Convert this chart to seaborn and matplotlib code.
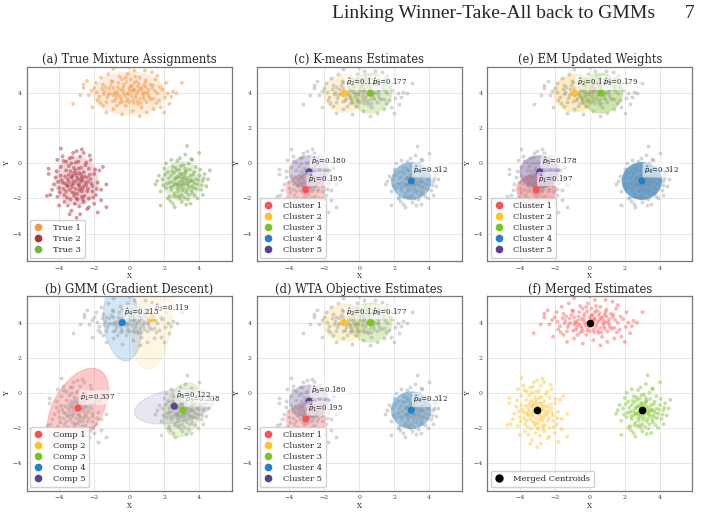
import numpy as np
import pandas as pd
import matplotlib
matplotlib.use("Agg")
import matplotlib.pyplot as plt
import seaborn as sns
from matplotlib.patches import Ellipse
from matplotlib.lines import Line2D

sns.set_theme(style="whitegrid")
plt.rcParams["font.family"] = ["DejaVu Serif"]

# ----------------------------------------------------------
# data
# ----------------------------------------------------------
# true component 1 (top cloud)
top_pts = [(-0.1,4.0),(0.3,4.2),(-0.5,3.8),(0.8,4.1),(-0.9,4.3),(0.2,3.6),(-0.3,4.5),(1.1,3.9),(-1.2,3.9),(0.5,4.4),
           (-0.7,4.1),(0.0,4.3),(0.6,3.7),(-0.4,3.5),(1.3,4.3),(-1.4,4.1),(0.9,4.6),(-0.8,3.6),(0.1,4.8),(-0.2,3.3),
           (1.6,4.0),(-1.7,3.8),(0.4,3.9),(-0.6,4.6),(1.0,3.5),(-1.0,4.7),(0.7,4.3),(-0.1,3.7),(0.3,4.6),(-0.5,4.2),
           (1.4,3.7),(-1.3,3.5),(0.2,4.1),(-0.9,3.9),(0.8,3.8),(-0.3,4.0),(1.9,4.2),(-2.0,4.3),(0.6,4.9),(-0.7,3.3),
           (1.2,4.5),(-1.5,4.5),(0.0,3.5),(0.5,3.4),(-0.2,4.9),(1.7,3.6),(-1.8,3.6),(0.9,4.0),(-1.1,4.0),(0.1,4.4),
           (2.2,4.0),(-2.3,3.9),(0.4,4.7),(-0.4,4.8),(1.5,4.8),(-1.6,4.9),(0.7,3.2),(-0.9,3.1),(1.1,4.2),(-0.6,3.9),
           (2.5,4.1),(-2.6,4.3),(-2.6,4.5),(2.4,3.8),(-2.8,3.9),(-1.5,3.3),(1.8,3.2),(2.0,2.9),(0.0,5.5),(-0.9,5.4),
           (0.6,2.7),(-3.2,3.4),(3.0,4.6),(1.3,5.2),(-1.2,5.1),(0.3,5.3),(2.1,4.6),(-2.1,3.2),(1.0,2.9),(-0.4,2.8),
           (2.7,4.0),(-2.4,4.7),(0.2,3.0),(1.6,5.0),(-1.9,4.6),(2.3,3.4),(-0.1,5.1),(0.9,5.3),(-1.3,2.9),(1.4,3.1),
           (0.15,3.85),(-0.35,4.15),(0.45,4.05),(-0.75,3.75),(0.95,4.35),(-1.05,4.45),(0.25,3.45),(-0.15,4.65),(1.25,3.65),(-1.25,3.75),
           (0.55,4.55),(-0.55,3.45),(0.05,4.15),(0.75,3.95),(-0.85,4.05),(1.45,4.15),(-1.45,3.95),(0.35,3.75),(-0.25,3.85),(0.65,4.25),
           (-0.65,4.35),(1.05,4.05),(-1.15,4.25),(0.15,4.45),(-0.45,3.65),(0.85,3.65),(-0.95,3.55),(1.35,4.45),(-1.55,4.25),(0.45,3.55),
           (-0.05,3.95),(0.55,4.15),(-0.35,4.35),(0.25,4.25),(-0.75,3.95),(1.15,3.75),(-1.35,4.35),(0.95,4.75),(-0.15,3.55),(0.65,3.45),
           (1.75,4.35),(-1.85,4.05),(2.05,3.75),(-2.15,4.15),(0.35,4.95),(-0.55,4.95),(1.55,3.45),(-1.65,3.45),(0.85,4.45),(-0.95,4.65)]
# true component 2 (left cloud)
left_pts = [(-3.0,-1.0),(-2.7,-0.8),(-3.3,-1.2),(-2.8,-1.4),(-3.2,-0.6),(-2.5,-1.1),(-3.5,-0.9),(-2.9,-0.3),(-3.1,-1.7),(-2.6,-0.5),
            (-3.4,-1.5),(-2.4,-1.6),(-3.6,-0.4),(-2.2,-0.9),(-3.8,-1.1),(-3.0,-2.0),(-2.9,0.1),(-2.7,-1.9),(-3.3,0.0),(-2.3,-0.3),
            (-3.7,-1.8),(-2.1,-1.3),(-3.9,-0.7),(-3.1,-2.3),(-2.6,-2.2),(-3.4,0.3),(-2.8,0.4),(-2.0,-0.6),(-4.0,-1.4),(-3.2,-1.0),
            (-2.9,-1.2),(-3.0,-0.7),(-2.6,-1.3),(-3.3,-0.8),(-2.8,-0.9),(-3.5,-1.3),(-2.4,-0.8),(-3.1,-0.4),(-2.7,-1.6),(-3.6,-1.6),
            (-2.5,-0.1),(-3.9,-0.2),(-1.9,-1.8),(-4.1,-1.9),(-2.3,-2.0),(-3.5,-2.4),(-2.2,0.2),(-3.8,0.4),(-1.8,-1.1),(-4.2,-0.8),
            (-2.0,-2.3),(-3.3,-2.7),(-2.6,0.6),(-3.2,0.6),(-1.7,-0.4),(-4.3,-1.2),(-2.4,-2.6),(-3.7,-2.2),(-2.1,-1.6),(-3.6,0.1),
            (-4.6,-0.3),(-4.6,-0.6),(-4.5,-1.8),(-3.9,0.85),(-2.3,-2.5),(-1.3,-2.5),(-1.8,-2.8),(-3.0,-3.1),(-1.5,-0.2),(-1.3,-1.2),
            (-4.7,-1.85),(-2.8,-2.9),(-3.4,-2.9),(-1.6,-1.5),(-4.4,-1.5),(-1.6,-2.1),(-2.7,0.8),(-3.0,0.7),(-4.1,0.2),(-4.0,-2.4),
            (-2.95,-0.85),(-3.15,-1.15),(-2.75,-1.05),(-3.25,-0.75),(-2.85,-1.25),(-3.45,-1.05),(-2.55,-0.75),(-3.05,-1.45),(-2.65,-1.45),(-3.35,-0.45),
            (-2.45,-1.25),(-3.55,-1.25),(-2.85,-0.55),(-3.15,-1.85),(-2.35,-1.45),(-3.65,-0.75),(-2.75,-0.25),(-3.25,-1.65),(-2.55,-1.85),(-3.45,-0.15),
            (-2.25,-0.65),(-3.75,-1.45),(-2.95,-2.05),(-3.05,0.05),(-2.65,-2.05),(-3.35,-2.05),(-2.15,-1.15),(-3.85,-0.95),(-2.45,0.05),(-3.55,-1.95),
            (-3.05,-0.55),(-2.75,-0.65),(-3.25,-1.35),(-2.85,-1.55),(-3.15,-0.25),(-2.35,-1.05),(-3.65,-1.15),(-2.65,-0.95),(-3.45,-0.65),(-2.95,-1.75),
            (-1.95,-0.35),(-4.05,-1.05),(-2.05,-1.95),(-3.95,-1.65),(-2.25,0.45),(-3.75,0.15),(-2.85,-2.45),(-3.25,0.35),(-1.85,-1.45),(-4.15,-0.45)]
# true component 3 (right cloud)
right_pts = [(3.0,-1.0),(3.2,-0.8),(2.8,-1.2),(3.4,-1.1),(2.6,-0.9),(3.1,-1.4),(2.9,-0.6),(3.5,-0.7),(2.5,-1.3),(3.3,-1.5),
             (2.7,-0.4),(3.6,-1.3),(2.4,-0.7),(3.0,-1.8),(3.2,-0.3),(2.3,-1.1),(3.8,-0.9),(2.8,-1.6),(3.7,-0.5),(2.6,-1.7),
             (3.9,-1.2),(2.2,-0.5),(3.1,-0.1),(2.9,-2.0),(3.4,-1.8),(2.1,-1.4),(4.0,-0.7),(2.5,-0.2),(3.6,-1.7),(2.7,-1.9),
             (3.0,-0.6),(3.3,-1.0),(2.8,-0.8),(3.1,-1.2),(2.6,-1.2),(3.5,-1.0),(2.9,-1.4),(3.2,-0.5),(2.4,-1.5),(3.7,-1.4),
             (4.2,-1.0),(1.9,-0.9),(3.4,0.0),(2.3,-1.9),(4.1,-1.5),(2.0,-0.3),(3.8,-0.2),(3.0,-2.2),(2.2,-2.0),(4.3,-0.6),
             (3.3,1.0),(4.0,0.6),(3.2,0.5),(4.6,-0.4),(1.5,-1.2),(1.8,-2.4),(2.6,-2.5),(4.2,-1.8),(2.4,0.2),(1.7,-0.7),
             (3.6,0.2),(2.9,0.3),(4.4,-1.3),(1.8,-1.6),(3.9,-2.0),(2.5,-2.3),(3.5,-2.3),(4.5,-0.9),(1.6,-1.0),(2.1,0.0),
             (3.05,-0.85),(2.85,-1.05),(3.25,-1.15),(2.95,-1.25),(3.15,-0.65),(2.75,-0.75),(3.35,-0.85),(2.65,-1.15),(3.45,-1.35),(2.55,-0.55),
             (3.55,-0.95),(2.45,-1.05),(3.05,-1.55),(2.85,-0.35),(3.25,-1.65),(2.35,-1.35),(3.65,-0.65),(2.75,-1.45),(3.75,-1.15),(2.65,-0.25),
             (3.15,-1.95),(2.95,-0.15),(3.85,-1.45),(2.25,-0.85),(3.45,-0.35),(2.55,-1.85),(3.95,-0.95),(2.15,-1.15),(3.35,-2.05),(2.85,-1.85),
             (3.05,-1.15),(3.15,-0.95),(2.95,-0.75),(3.25,-0.45),(2.75,-1.25),(3.35,-1.25),(2.65,-0.85),(3.55,-1.55),(2.45,-0.45),(3.65,-1.05),
             (4.05,-0.35),(1.95,-1.25),(3.75,-1.85),(2.35,-2.15),(4.15,-1.25),(2.05,-0.65),(3.55,0.25),(2.75,0.15),(4.25,-0.85),(3.25,-2.35)]

true_names = ["True 1", "True 2", "True 3"]
true_colors = ["#f39a45", "#b3303d", "#7fad4f"]
true_ell = [(0.0, 4.0, 4.15, 2.5, 0), (-3.0, -1.0, 2.5, 2.8, 0), (3.0, -1.0, 2.3, 2.3, 0)]

clu_names = ["Cluster 1", "Cluster 2", "Cluster 3", "Cluster 4", "Cluster 5"]
comp_names = ["Comp 1", "Comp 2", "Comp 3", "Comp 4", "Comp 5"]
clu_colors = ["#ff4f4f", "#ffc125", "#7cc41f", "#1f82cf", "#5f3f97"]

# K-means / WTA centroids, ellipse sizes and weights
km_cx = [-3.05, -0.87, 0.64, 2.97, -2.86]
km_cy = [-1.5, 4.0, 4.0, -1.0, -0.48]
km_w = [2.3, 2.4, 2.5, 2.3, 2.3]
km_h = [1.8, 2.2, 2.3, 2.15, 1.9]
km_p = [0.195, 0.136, 0.177, 0.312, 0.180]
wta_p = [0.195, 0.136, 0.177, 0.312, 0.180]
em_p = [0.197, 0.134, 0.179, 0.312, 0.178]

# GMM (gradient descent) components
gmm_cx = [-2.93, 1.3, 3.07, -0.4, 2.57]
gmm_cy = [-0.88, 4.23, -0.99, 4.0, -0.77]
gmm_w = [5.0, 5.8, 3.2, 4.4, 4.6]
gmm_h = [2.8, 2.3, 2.1, 2.1, 1.9]
gmm_ang = [60, 84, 70, 97, 10]
gmm_p = [0.337, 0.119, 0.208, 0.213, 0.122]

merged_cx = [0.0, -3.0, 3.0]
merged_cy = [4.0, -1.0, -1.0]
merged_colors = ["#ff5a5a", "#ffc42e", "#7cc426"]

# ----------------------------------------------------------
df = pd.DataFrame(
    [(x, y, "True 1") for x, y in top_pts]
    + [(x, y, "True 2") for x, y in left_pts]
    + [(x, y, "True 3") for x, y in right_pts],
    columns=["x", "y", "true"])
merge_map = {"True 1": "M1", "True 2": "M2", "True 3": "M3"}
df["merged"] = df["true"].map(merge_map)

W, H = 701, 512
fig = plt.figure(figsize=(W / 100, H / 100), dpi=100)

col_left = [26.7, 256.7, 487.3]
row_top = [66.7, 296.0]
ax_w, ax_h = 205.0, 194.5
PT = 8          # marker size of the data points


def labels(ax):
    ax.set_xlabel("X", fontsize=5, labelpad=1)
    ax.set_ylabel("Y", fontsize=5, labelpad=1)


def make_ax(r, c):
    ax = fig.add_axes([col_left[c] / W, 1 - (row_top[r] + ax_h) / H, ax_w / W, ax_h / H])
    ax.set_xlim(-5.85, 5.85)
    ax.set_ylim(-5.58, 5.52)
    ax.set_xticks([-4, -2, 0, 2, 4])
    ax.set_yticks([-4, -2, 0, 2, 4])
    ax.tick_params(labelsize=4.5, length=2, width=0.5, pad=1.5, colors="#444444")
    ax.grid(True, color="#dddddd", lw=0.5)
    for s in ax.spines.values():
        s.set_color("#777777")
        s.set_linewidth(0.9)
    labels(ax)
    return ax


def gray_points(ax):
    sns.scatterplot(data=df, x="x", y="y", color="#888888", s=PT, alpha=0.35,
                    linewidth=0, legend=False, ax=ax, zorder=2)
    labels(ax)


def centroids(ax, cx, cy, ps):
    sns.scatterplot(x=cx, y=cy, hue=list(range(5)), palette=clu_colors, s=26,
                    linewidth=0, legend=False, ax=ax, zorder=4)
    labels(ax)
    for k in range(5):
        ax.annotate(r"$\hat{p}_{%d}$=%.3f" % (k + 1, ps[k]), (cx[k], cy[k]),
                    xytext=(1.5, 3.5), textcoords="offset points", fontsize=5,
                    ha="left", va="bottom", zorder=6,
                    bbox=dict(boxstyle="round,pad=0.2", fc="white", ec="none", alpha=0.6))


def legend(ax, names, colors):
    handles = [Line2D([], [], marker="o", ls="", color=c, markersize=4.5, label=n)
               for n, c in zip(names, colors)]
    ax.legend(handles=handles, loc="lower left", fontsize=6, frameon=True,
              framealpha=0.9, edgecolor="#cccccc", handlelength=1.0,
              handletextpad=1.2, labelspacing=0.35, borderaxespad=0.4,
              borderpad=0.5)


def title(ax, t):
    ax.set_title(t, fontsize=8.3, pad=2.5)


# (a) true mixture assignments
ax = make_ax(0, 0)
for (cx, cy, w, h, a), col in zip(true_ell, true_colors):
    ax.add_patch(Ellipse((cx, cy), w, h, angle=a, color=col, alpha=0.18, lw=0, zorder=1))
sns.scatterplot(data=df, x="x", y="y", hue="true", palette=dict(zip(true_names, true_colors)),
                s=PT, alpha=0.5, linewidth=0, legend=False, ax=ax, zorder=2)
labels(ax)
legend(ax, true_names, true_colors)
title(ax, "(a) True Mixture Assignments")

# (c) K-means, (d) WTA, (e) EM weights
for (r, c, ps, amul, t) in [(0, 1, km_p, 1.5, "(c) K-means Estimates"),
                            (1, 1, wta_p, 1.5, "(d) WTA Objective Estimates"),
                            (0, 2, em_p, 2.2, "(e) EM Updated Weights")]:
    ax = make_ax(r, c)
    for k in range(5):
        ax.add_patch(Ellipse((km_cx[k], km_cy[k]), km_w[k], km_h[k], color=clu_colors[k],
                             alpha=min(ps[k] * amul, 0.9), lw=0, zorder=1))
    gray_points(ax)
    centroids(ax, km_cx, km_cy, ps)
    legend(ax, clu_names, clu_colors)
    title(ax, t)

# (b) GMM gradient descent
ax = make_ax(1, 0)
for k in range(5):
    ax.add_patch(Ellipse((gmm_cx[k], gmm_cy[k]), gmm_w[k], gmm_h[k], angle=gmm_ang[k],
                         fc=clu_colors[k], ec=clu_colors[k], alpha=max(gmm_p[k] * 0.9, 0.13),
                         lw=0.8, zorder=1))
gray_points(ax)
centroids(ax, gmm_cx, gmm_cy, gmm_p)
legend(ax, comp_names, clu_colors)
title(ax, "(b) GMM (Gradient Descent)")

# (f) merged estimates
ax = make_ax(1, 2)
sns.scatterplot(data=df, x="x", y="y", hue="merged",
                palette=dict(zip(["M1", "M2", "M3"], merged_colors)),
                s=PT, alpha=0.45, linewidth=0, legend=False, ax=ax, zorder=2)
sns.scatterplot(x=merged_cx, y=merged_cy, color="black", s=30, linewidth=0,
                legend=False, ax=ax, zorder=4)
labels(ax)
ax.legend(handles=[Line2D([], [], marker="o", ls="", color="black", markersize=5,
                          label="Merged Centroids")],
          loc="lower left", fontsize=6, frameon=True, framealpha=0.9,
          edgecolor="#cccccc", handlelength=1.0, handletextpad=1.2,
          borderaxespad=0.4, borderpad=0.5)
title(ax, "(f) Merged Estimates")

# page header
fig.text(655 / W, 1 - 14 / H, "Linking Winner-Take-All back to GMMs", ha="right",
         va="center", fontsize=14, family=["Liberation Serif", "DejaVu Serif"])
fig.text(690 / W, 1 - 14 / H, "7", ha="center", va="center", fontsize=14,
         family=["Liberation Serif", "DejaVu Serif"])

fig.savefig("out.png", dpi=100)
